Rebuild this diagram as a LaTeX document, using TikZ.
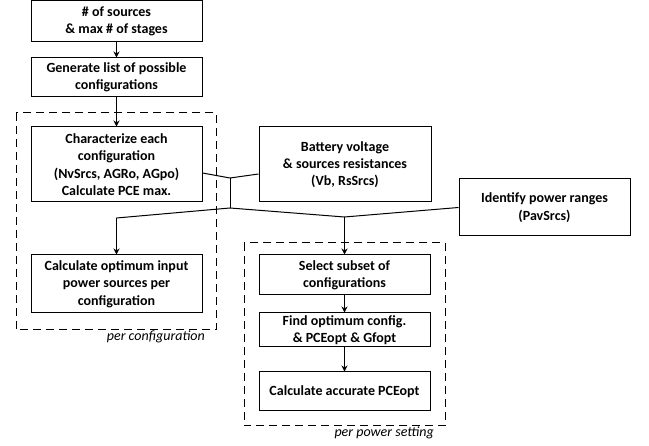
\documentclass[tikz,border=0pt]{standalone}
\usepackage{fontspec}
\setmainfont{Carlito}
\usetikzlibrary{arrows.meta}
\begin{document}
\begin{tikzpicture}[x=1pt,y=-1pt,
  box/.style={draw, line width=1pt, align=center, font=\bfseries\fontsize{14}{17.3}\selectfont, inner sep=0pt},
  dbox/.style={draw, line width=1pt, dash pattern=on 8pt off 5pt},
  conn/.style={line width=1pt},
  arr/.style={line width=1pt, -{Stealth[length=6pt,width=6pt]}},
  lbl/.style={font=\itshape\fontsize{14}{16}\selectfont, inner sep=0pt}]
\useasboundingbox (0,0) rectangle (649,446);
% dashed groups
\draw[dbox] (16,113) rectangle (216,330);
\draw[dbox] (244,243) rectangle (445,426);
\node[lbl, anchor=north east] (pc) at (205,331) {per configuration};
\node[lbl, anchor=north east] (pp) at (434,427) {per power setting};
% boxes
\node[box, minimum width=171pt, minimum height=41pt] (b1) at (116.5,21.5) {\# of sources\\ \& max \# of stages};
\node[box, minimum width=171pt, minimum height=39pt] (b2) at (116.5,77.5) {Generate list of possible\\ configurations};
\node[box, minimum width=171pt, minimum height=75pt] (b3) at (116.5,164.5) {Characterize each\\ configuration\\ (NvSrcs, AGRo, AGpo)\\ Calculate PCE max.};
\node[box, minimum width=171pt, minimum height=58pt] (b4) at (116.5,284) {Calculate optimum input\\ power sources per\\ configuration};
\node[box, minimum width=172pt, minimum height=75pt] (bv) at (345,164.5) {Battery voltage\\ \& sources resistances\\ (Vb, RsSrcs)};
\node[box, minimum width=171pt, minimum height=57pt] (bi) at (544.5,207.5) {Identify power ranges\\ (PavSrcs)};
\node[box, minimum width=171pt, minimum height=40pt] (s1) at (344.5,275) {Select subset of\\ configurations};
\node[box, minimum width=171pt, minimum height=34pt] (s2) at (344.5,330) {Find optimum config.\\ \& PCEopt \& Gfopt};
\node[box, minimum width=171pt, minimum height=39pt] (s3) at (344.5,391.5) {Calculate accurate PCEopt};
% junctions
\coordinate (j1) at (230,178);
\coordinate (j2) at (230,208);
\coordinate (jl) at (116.5,218);
\coordinate (jr) at (344.5,217);
% connectors
\draw[arr] (b1.south) -- (b2.north);
\draw[arr] (b2.south) -- (b3.north);
\draw[conn] ([yshift=-8.5pt]b3.east) -- (j1);
\draw[conn] ([yshift=-9.5pt]bv.west) -- (j1);
\draw[conn] (j1) -- (j2);
\draw[conn] (j2) -- (jl);
\draw[conn] (j2) -- (jr);
\draw[conn] (bi.west) -- (jr);
\draw[arr] (jl) -- (b4.north);
\draw[arr] (jr) -- (s1.north);
\draw[arr] (s1.south) -- (s2.north);
\draw[arr] (s2.south) -- (s3.north);
\end{tikzpicture}
\end{document}
